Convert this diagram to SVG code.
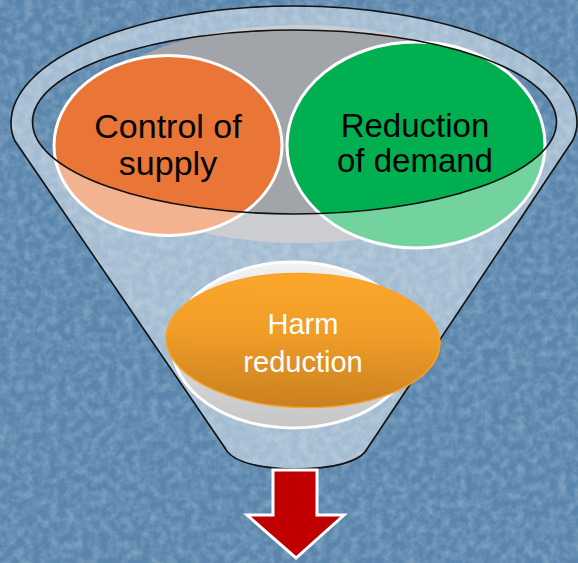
<svg xmlns="http://www.w3.org/2000/svg" width="578" height="563" viewBox="0 0 578 563">
<style>
.line{fill:none;stroke:#111;stroke-width:1.6}
.big{font-family:"Liberation Sans",Arial,sans-serif;font-size:34px;fill:#000;text-anchor:middle}
.harm{font-family:"Liberation Sans",Arial,sans-serif;font-size:29px;fill:#fff;text-anchor:middle}
</style>
<defs>
<filter id="tex" x="0" y="0" width="100%" height="100%">
<feTurbulence type="fractalNoise" baseFrequency="0.12" numOctaves="3" seed="4"/>
<feColorMatrix type="matrix" values="0 0 0 0 1  0 0 0 0 1  0 0 0 0 1  0.45 0 0 0 -0.16"/>
</filter>
<linearGradient id="disk" x1="0" y1="0" x2="0" y2="1">
<stop offset="0" stop-color="#f2f2f2"/>
<stop offset="1" stop-color="#c6c6c6"/>
</linearGradient>
<linearGradient id="org" x1="0" y1="0" x2="0" y2="1">
<stop offset="0" stop-color="#fca72b"/>
<stop offset="0.45" stop-color="#f09d28"/>
<stop offset="1" stop-color="#c9801f"/>
</linearGradient>
</defs>
<rect width="578" height="563" fill="#5a86ad"/>
<rect width="578" height="563" filter="url(#tex)"/>

<g id="funnel-back">
<ellipse cx="300" cy="134" rx="228" ry="109" fill="#a1a5aa"/>
</g>

<g id="node-supply">
<ellipse cx="168" cy="145.5" rx="114" ry="90" fill="#e97637" stroke="#fff" stroke-width="3"/>
</g>
<g id="node-demand">
<ellipse cx="416" cy="145" rx="129" ry="103" fill="#00b050" stroke="#fff" stroke-width="3"/>
</g>

<g id="funnel">
<path fill="#fff" fill-opacity="0.45" fill-rule="evenodd" d="M11,123 A283,117 0 0 1 577,123 Q577,131 573,140 L367,449 C360,462 332,469 296,469 C260,469 232,462 225,448 L15,141 Q11,133 11,123 Z M32.5,122 A262,92 0 1 0 556.5,122 A262,92 0 1 0 32.5,122 Z"/>
<path class="line" d="M11,123 A283,117 0 0 1 577,123 Q577,131 573,140 L367,449 C360,462 332,469 296,469 C260,469 232,462 225,448 L15,141 Q11,133 11,123 Z"/>
<ellipse class="line" cx="294.5" cy="122" rx="262" ry="92"/>
</g>

<g id="node-supply-label">
<text class="big" x="168" y="138">Control of</text>
<text class="big" x="168" y="175">supply</text>
</g>
<g id="node-demand-label">
<text class="big" x="415" y="137" style="font-size:33px">Reduction</text>
<text class="big" x="415" y="172" style="font-size:33px">of demand</text>
</g>

<g id="node-harm">
<ellipse cx="293" cy="345" rx="121" ry="83" fill="url(#disk)" stroke="#fff" stroke-width="3"/>
<ellipse cx="303" cy="340.5" rx="137" ry="67" transform="rotate(1.3 303 340.5)" fill="url(#org)" stroke="#f9a22a" stroke-width="1.5"/>
<text class="harm" x="303" y="334">Harm</text>
<text class="harm" x="303" y="372">reduction</text>
</g>

<g id="connectors">
<polygon points="273,470 317,470 317,515 344,515 296,558 247,515 273,515" fill="#c00000" stroke="#fff" stroke-width="3"/>
</g>
</svg>
